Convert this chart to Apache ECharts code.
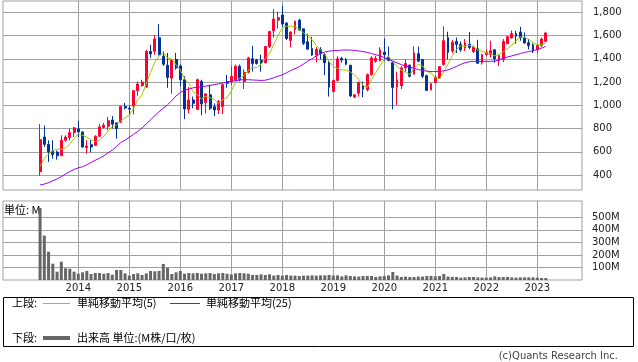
<!DOCTYPE html>
<html><head><meta charset="utf-8">
<script src="https://cdn.jsdelivr.net/npm/echarts@6/dist/echarts.min.js"></script>
<style>html,body{margin:0;padding:0;background:#fff;}#c{width:638px;height:362px;}</style>
</head><body><div id="c"></div>
<script>
// Monthly candles, first month = April 2013
const firstYear = 2013, firstMonth = 4;
const open = [428,727,664,606,597,566,699,722,765,797,771,636,661,655,733,809,820,873,849,855,
  990,975,993,1126,1170,1157,1464,1464,1581,1422,1345,1234,1394,1339,1220,965,1046,965,1205,1023,
  1090,988,960,990,1205,1205,1220,1336,1205,1284,1400,1390,1386,1367,1506,1641,1733,1777,1707,1558,
  1652,1733,1658,1547,1489,1433,1480,1436,1367,1119,1214,1403,1394,1345,1070,1104,1168,1133,1264,1380,
  1386,1458,1414,1367,1157,1168,1322,1345,1267,1444,1394,1255,1133,1197,1234,1350,1583,1467,1550,1525,
  1494,1525,1461,1486,1367,1436,1436,1478,1386,1394,1530,1580,1617,1630,1580,1539,1520,1478,1514,1550];
const close = [704,664,597,577,566,699,727,765,806,771,641,650,641,733,814,829,867,838,800,990,
  977,967,1126,1183,1200,1464,1442,1570,1436,1353,1240,1389,1322,1220,968,1046,1017,1220,1012,1098,
  974,960,1032,1177,1190,1250,1336,1220,1284,1408,1360,1360,1365,1506,1636,1742,1754,1699,1575,1630,
  1724,1647,1533,1483,1433,1480,1447,1367,1157,1214,1400,1389,1353,1081,1090,1197,1139,1264,1408,1403,
  1478,1436,1386,1154,1220,1322,1360,1250,1450,1380,1250,1128,1185,1243,1333,1556,1456,1542,1525,1478,
  1536,1497,1500,1361,1436,1456,1470,1400,1428,1550,1590,1617,1595,1580,1536,1514,1467,1514,1570,1622];
const low = [394,641,513,541,532,566,686,699,727,727,636,583,597,652,727,800,786,800,713,849,
  965,922,922,1082,1160,1150,1408,1436,1428,1339,1150,1100,1308,1162,880,930,974,960,915,930,
  960,907,925,925,1150,1177,1205,1205,1140,1275,1290,1350,1290,1360,1492,1583,1661,1675,1561,1500,
  1610,1641,1519,1483,1425,1370,1394,1258,1075,1113,1205,1367,1345,1070,1062,1075,1070,1119,1255,1367,
  1378,1386,1380,965,1003,1140,1284,1240,1264,1370,1234,1128,1128,1190,1228,1342,1394,1450,1450,1461,
  1467,1483,1450,1361,1350,1428,1411,1367,1339,1372,1527,1575,1530,1556,1530,1480,1450,1450,1500,1545];
const high = [838,826,699,699,611,742,742,800,814,867,775,699,699,742,838,849,900,907,849,995,
  1020,1000,1126,1205,1220,1478,1520,1605,1699,1464,1450,1389,1450,1353,1250,1157,1075,1230,1220,1105,
  1177,1017,1046,1190,1260,1336,1350,1350,1310,1417,1511,1400,1436,1506,1636,1829,1806,1855,1716,1636,
  1727,1742,1658,1617,1589,1500,1500,1450,1380,1220,1422,1417,1408,1345,1095,1205,1205,1273,1422,1425,
  1500,1575,1506,1380,1290,1336,1394,1350,1506,1506,1400,1264,1190,1255,1333,1680,1633,1561,1583,1550,
  1570,1630,1514,1564,1444,1478,1556,1478,1436,1570,1595,1644,1640,1675,1627,1570,1533,1528,1583,1633];
const volume = [575,354,226,130,66,146,93,90,66,50,61,72,48,56,56,50,56,42,80,80,
  53,35,48,53,40,53,72,69,72,128,98,48,61,72,50,56,53,56,50,53,
  56,48,53,56,50,45,53,56,53,50,40,40,45,40,45,35,40,35,40,35,
  35,32,35,35,37,35,37,37,40,35,37,29,37,32,29,27,32,32,32,24,
  29,32,37,64,35,24,27,24,24,27,27,32,32,29,32,48,27,24,24,19,
  21,24,24,21,19,19,21,29,24,24,24,21,19,21,21,21,21,19,16,16];
const ma5 = [471,545,580,610,622,621,633,667,713,754,742,727,702,687,696,733,777,816,830,865,
  894,914,972,1049,1091,1188,1283,1372,1422,1453,1408,1398,1348,1305,1228,1189,1115,1094,1053,1079,
  1064,1053,1015,1048,1067,1122,1197,1235,1256,1300,1322,1326,1355,1400,1445,1522,1601,1667,1681,1680,
  1676,1655,1622,1603,1564,1515,1475,1442,1377,1333,1317,1305,1303,1287,1263,1222,1172,1154,1220,1282,
  1338,1398,1422,1371,1335,1304,1288,1261,1320,1352,1338,1292,1279,1237,1228,1289,1355,1426,1482,1511,
  1507,1516,1507,1474,1466,1450,1445,1425,1438,1461,1488,1517,1556,1586,1584,1568,1538,1522,1520,1537];
const ma25 = [314,322,334,350,366,386,408,430,448,462,471,488,508,527,545,565,590,615,645,680,
  700,725,750,775,805,840,875,910,945,975,1005,1040,1080,1110,1130,1140,1150,1155,1160,1165,
  1170,1178,1185,1192,1200,1206,1212,1218,1220,1220,1218,1216,1214,1216,1225,1238,1250,1262,1280,1300,
  1315,1332,1355,1380,1400,1425,1445,1458,1466,1470,1472,1475,1476,1475,1472,1468,1462,1455,1445,1435,
  1425,1410,1395,1380,1365,1350,1338,1328,1318,1308,1300,1294,1290,1290,1292,1296,1305,1318,1335,1352,
  1366,1375,1378,1378,1378,1378,1378,1380,1390,1405,1415,1425,1435,1445,1455,1462,1470,1480,1492,1506];
const priceTicks = [400,600,800,1000,1200,1400,1600,1800];
const volumeTicks = [100,200,300,400,500];
const yearTicks = [2014,2015,2016,2017,2018,2019,2020,2021,2022,2023];

// month index: months since January 2013
const mIdx = i => (firstYear - 2013) * 12 + (firstMonth - 1) + i;
const yearIdx = yearTicks.map(y => (y - 2013) * 12);
const candleData = open.map((o, i) => [mIdx(i), o, close[i], low[i], high[i]]);
const ma5Data = ma5.map((v, i) => [mIdx(i), v]);
const ma25Data = ma25.map((v, i) => [mIdx(i), v]);
const volData = volume.map((v, i) => [mIdx(i), v]);

const gridCol = '#a0a0a0';
const lblFont = {fontFamily: 'DejaVu Sans', fontSize: 10, color: '#222'};
const xMin = -5.72, xMax = 130.52;
function xAx(gi, showLabel) {
  return {
    type: 'value', gridIndex: gi, min: xMin, max: xMax,
    axisLine: {show: false},
    axisTick: {show: false, customValues: yearIdx},
    axisLabel: Object.assign({show: showLabel, customValues: yearIdx, margin: 3,
      formatter: v => String(2013 + Math.round(v / 12))}, lblFont),
    splitLine: {show: true, lineStyle: {color: gridCol, width: 1}}
  };
}
const chart = echarts.init(document.getElementById('c'), null, {renderer: 'canvas'});
chart.setOption({
  animation: false,
  backgroundColor: '#fff',
  grid: [
    {left: 3, top: 1, width: 579, height: 189, show: true, borderColor: gridCol, borderWidth: 1},
    {left: 3, top: 201, width: 579, height: 79, show: true, borderColor: gridCol, borderWidth: 1}
  ],
  xAxis: [xAx(0, false), xAx(1, true)],
  yAxis: [
    {type: 'value', gridIndex: 0, position: 'right', min: 271, max: 1897.5,
      axisLine: {show: false},
      axisTick: {show: true, length: 6, customValues: priceTicks, lineStyle: {color: gridCol}},
      axisLabel: Object.assign({customValues: priceTicks, margin: 11,
        formatter: v => v.toLocaleString('en-US')}, lblFont),
      splitLine: {show: true, lineStyle: {color: gridCol, width: 1}}},
    {type: 'value', gridIndex: 1, position: 'right', min: 0, max: 630,
      axisLine: {show: false},
      axisTick: {show: true, length: 6, customValues: volumeTicks, lineStyle: {color: gridCol}},
      axisLabel: Object.assign({customValues: volumeTicks, margin: 10,
        formatter: v => v + 'M'}, lblFont),
      splitLine: {show: true, lineStyle: {color: gridCol, width: 1}}}
  ],
  series: [
    {type: 'candlestick', xAxisIndex: 0, yAxisIndex: 0, data: candleData, barWidth: 2.4,
      itemStyle: {color: '#ff0033', color0: '#003399', borderColor: '#ff0033', borderColor0: '#003399', borderWidth: 1}},
    {type: 'line', xAxisIndex: 0, yAxisIndex: 0, data: ma5Data, symbol: 'none', showSymbol: false,
      lineStyle: {color: '#99cc00', width: 1}, itemStyle: {color: '#99cc00'}},
    {type: 'line', xAxisIndex: 0, yAxisIndex: 0, data: ma25Data, symbol: 'none', showSymbol: false,
      lineStyle: {color: '#9900ff', width: 1}, itemStyle: {color: '#9900ff'}},
    {type: 'bar', xAxisIndex: 1, yAxisIndex: 1, data: volData, barWidth: 3,
      itemStyle: {color: '#666666'}}
  ],
  graphic: [
    {type: 'text', x: 4, y: 210, style: {text: '単位: M', font: '11px "Noto Sans CJK JP"', fill: '#000', verticalAlign: 'middle'}},
    {type: 'rect', shape: {x: 3.5, y: 297.5, width: 630, height: 49}, style: {fill: 'none', stroke: '#000', lineWidth: 1}},
    {type: 'text', x: 12, y: 303, style: {text: '上段:', font: '11px "Noto Sans CJK JP"', fill: '#000', verticalAlign: 'middle'}},
    {type: 'line', shape: {x1: 43, y1: 303.5, x2: 70, y2: 303.5}, style: {stroke: '#99cc00', lineWidth: 1}},
    {type: 'text', x: 77, y: 303, style: {text: '単純移動平均(5)', font: '11px "Noto Sans CJK JP"', fill: '#000', verticalAlign: 'middle'}},
    {type: 'line', shape: {x1: 170, y1: 303.5, x2: 200, y2: 303.5}, style: {stroke: '#9900ff', lineWidth: 1}},
    {type: 'text', x: 206, y: 303, style: {text: '単純移動平均(25)', font: '11px "Noto Sans CJK JP"', fill: '#000', verticalAlign: 'middle'}},
    {type: 'text', x: 12, y: 338, style: {text: '下段:', font: '11px "Noto Sans CJK JP"', fill: '#000', verticalAlign: 'middle'}},
    {type: 'line', shape: {x1: 43, y1: 338, x2: 70, y2: 338}, style: {stroke: '#666666', lineWidth: 4}},
    {type: 'text', x: 77, y: 338, style: {text: '出来高 単位:(M株/口/枚)', font: '11px "Noto Sans CJK JP"', fill: '#000', verticalAlign: 'middle'}},
    {type: 'text', x: 618, y: 356, style: {text: '(c)Quants Research Inc.', font: '10px "DejaVu Sans"', fill: '#444', align: 'right', verticalAlign: 'middle'}}
  ]
});
</script></body></html>
